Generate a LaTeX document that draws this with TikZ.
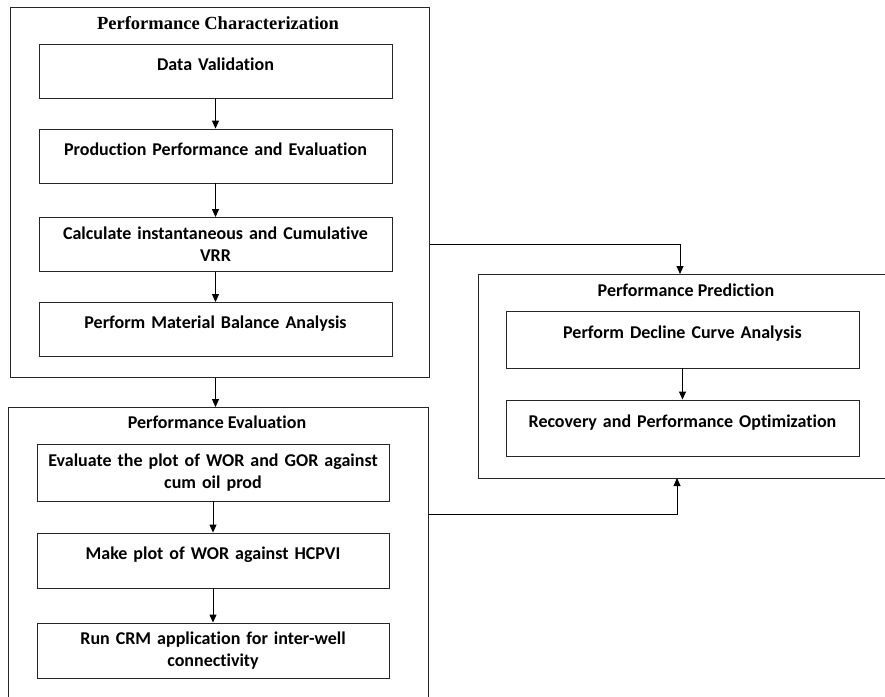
\documentclass[tikz,border=0pt]{standalone}
\usepackage{fontspec}
\setmainfont{Carlito}[Ligatures=NoCommon]
\newfontfamily\headserif{Liberation Serif}
\usetikzlibrary{arrows.meta}

\begin{document}
\begin{tikzpicture}[x=1pt,y=-1pt,line width=0.9pt,
      >={Triangle[length=8pt,width=7pt]},
      groupbox/.style={draw=black!85,anchor=north west,inner sep=0pt},
      taskbox/.style={draw=black!85,inner sep=0pt,minimum width=353pt,minimum height=55pt,
         text width=345pt,align=center,font=\fontsize{18}{22}\selectfont\bfseries},
      oneline/.style={text height=13pt,text depth=15pt},
      grouptitle/.style={font=\fontsize{18}{20}\selectfont\bfseries}]
      \useasboundingbox(0,0)rectangle(885,696);
      \clip(0,0)rectangle(885,696);
      \node[groupbox,minimum width=419pt,minimum height=370pt](pc)at(10,7){};
      \node[groupbox,minimum width=420pt,minimum height=303pt](pe)at(8,407){};
      \node[groupbox,minimum width=422pt,minimum height=204pt](pp)at(478,274){};
      \node[grouptitle,font=\fontsize{18.5}{20}\selectfont\headserif\bfseries](pctitle)at(218,23){Performance Characterization};
      \node[grouptitle](petitle)at(217,422){Performance Evaluation};
      \node[grouptitle](pptitle)at(686,290){Performance Prediction};
      \node[taskbox,oneline,minimum height=54pt](dv)at(215.5,71){Data Validation};
      \node[taskbox,oneline,minimum height=54pt](ppe)at(215.5,156){Production Performance and Evaluation};
      \node[taskbox,minimum height=54pt](cv)at(215.5,244.5){Calculate instantaneous and\ Cumulative\\VRR};
      \node[taskbox,oneline,minimum height=54pt](ma)at(215.5,329.5){Perform Material Balance Analysis};
      \node[taskbox,minimum width=352pt,minimum height=57pt](wg)at(213,472.5){Evaluate the plot of WOR and GOR against\\cum oil prod};
      \node[taskbox,oneline,minimum width=352pt](wh)at(213,560.5){Make plot of WOR against HCPVI};
      \node[taskbox,minimum width=352pt](crm)at(213,650.5){Run CRM application for inter-well\\connectivity};
      \node[taskbox,oneline,minimum height=57pt](dca)at(682.5,339.5){Perform Decline Curve Analysis};
      \node[taskbox,oneline,minimum height=56pt](rpo)at(682.5,428){Recovery and\ Performance Optimization};
      \coordinate(ppin)at(680,274);
      \coordinate(ppout)at(677,478);
      \coordinate(pejoin)at(428,514);
      \draw[->](dv)--(ppe);
      \draw[->](ppe)--(cv);
      \draw[->](cv)--(ma);
      \draw[->](wg)--(wh);
      \draw[->](wh)--(crm);
      \draw[->](dca)--(rpo);
      \draw[->](pc.south-|ma)--(pe.north-|ma);
      \draw[->](pc.east|-cv)-|(ppin);
      \draw[->](pejoin)-|(ppout);
    \end{tikzpicture}
\end{document}
